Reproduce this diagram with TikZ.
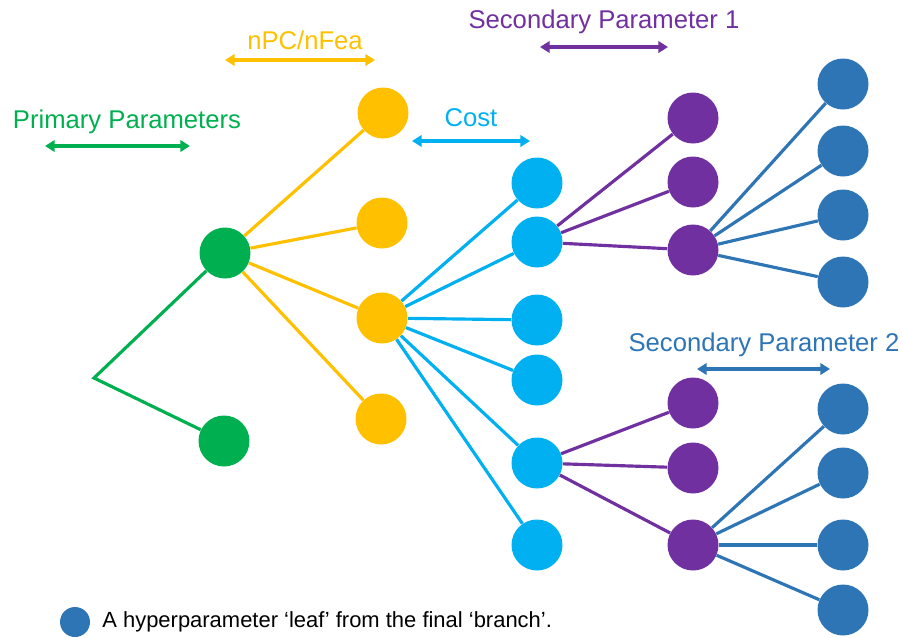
\documentclass[tikz,border=0pt]{standalone}
\usepackage{fontspec}
\setmainfont{Liberation Sans}
\usetikzlibrary{arrows.meta}
\definecolor{cgreen}{HTML}{00B050}
\definecolor{cyellow}{HTML}{FFC000}
\definecolor{ccyan}{HTML}{00B0F0}
\definecolor{cpurple}{HTML}{7030A0}
\definecolor{cblue}{HTML}{2E75B6}
\tikzset{
  ball/.style={circle, fill=#1, minimum size=1.02cm, inner sep=0pt},
  branch/.style={draw=#1, line width=1.8pt},
  span/.style={#1, line width=1.8pt, {Triangle[length=5.5pt,width=6.5pt]}-{Triangle[length=5.5pt,width=6.5pt]}},
  caption/.style={text=#1, font=\fontsize{14.6pt}{17pt}\selectfont, inner sep=0pt},
}
\begin{document}
\begin{tikzpicture}[x=0.02cm, y=-0.02cm]
\useasboundingbox (0,0) rectangle (903,637);

% root of the tree
\coordinate (root) at (94,378);

% primary parameters
\node[ball=cgreen] (g1) at (225,253) {};
\node[ball=cgreen] (g2) at (224,441) {};

% nPC / nFea
\node[ball=cyellow] (y1) at (383,113) {};
\node[ball=cyellow] (y2) at (382,223) {};
\node[ball=cyellow] (y3) at (382,318) {};
\node[ball=cyellow] (y4) at (381,419) {};

% cost
\foreach \i/\yy in {1/183,2/242,3/320,4/380,5/463,6/545}
  \node[ball=ccyan] (c\i) at (537,\yy) {};

% secondary parameter 1
\node[ball=cpurple] (p1) at (693,118) {};
\node[ball=cpurple] (p2) at (693,182) {};
\node[ball=cpurple] (p3) at (693,250) {};
\node[ball=cpurple] (p4) at (693,403) {};
\node[ball=cpurple] (p5) at (693,468) {};
\node[ball=cpurple] (p6) at (693,545) {};

% secondary parameter 2
\foreach \i/\yy in {1/84,2/151,3/215,4/282,5/409,6/473,7/545,8/610}
  \node[ball=cblue] (b\i) at (843,\yy) {};

% branches
\draw[branch=cgreen] (g1) -- (root) -- (g2);
\foreach \t in {y1,y2,y3,y4} \draw[branch=cyellow] (g1) -- (\t);
\foreach \t in {c1,c2,c3,c4,c5,c6} \draw[branch=ccyan] (y3) -- (\t);
\foreach \t in {p1,p2,p3} \draw[branch=cpurple] (c2) -- (\t);
\foreach \t in {p4,p5,p6} \draw[branch=cpurple] (c5) -- (\t);
\foreach \t in {b1,b2,b3,b4} \draw[branch=cblue] (p3) -- (\t);
\foreach \t in {b5,b6,b7,b8} \draw[branch=cblue] (p6) -- (\t);

% level labels with span arrows
\node[caption=cgreen] (tp) at (127,122) {Primary Parameters};
\coordinate (ap1) at (45,146); \coordinate (ap2) at (190,146);
\draw[span=cgreen] (ap1) -- (ap2);

\node[caption=cyellow] (tn) at (305,40) {nPC/nFea};
\coordinate (an1) at (225,60); \coordinate (an2) at (375,60);
\draw[span=cyellow] (an1) -- (an2);

\node[caption=ccyan] (tc) at (471,118) {Cost};
\coordinate (ac1) at (412,141); \coordinate (ac2) at (530,141);
\draw[span=ccyan] (ac1) -- (ac2);

\node[caption=cpurple] (ts1) at (604,22) {Secondary Parameter 1};
\coordinate (as1) at (540,47); \coordinate (as2) at (668,47);
\draw[span=cpurple] (as1) -- (as2);

\node[caption=cblue] (ts2) at (764,345) {Secondary Parameter 2};
\coordinate (at1) at (697,369); \coordinate (at2) at (830,369);
\draw[span=cblue] (at1) -- (at2);

% legend
\node[circle, fill=cblue, minimum size=0.6cm, inner sep=0pt] (lg) at (75,622) {};
\node[text=black, font=\fontsize{12.5pt}{14pt}\selectfont, inner sep=0pt, anchor=west] (lt) at (102,622) {A hyperparameter ‘leaf’ from the final ‘branch’.};
\end{tikzpicture}
\end{document}
